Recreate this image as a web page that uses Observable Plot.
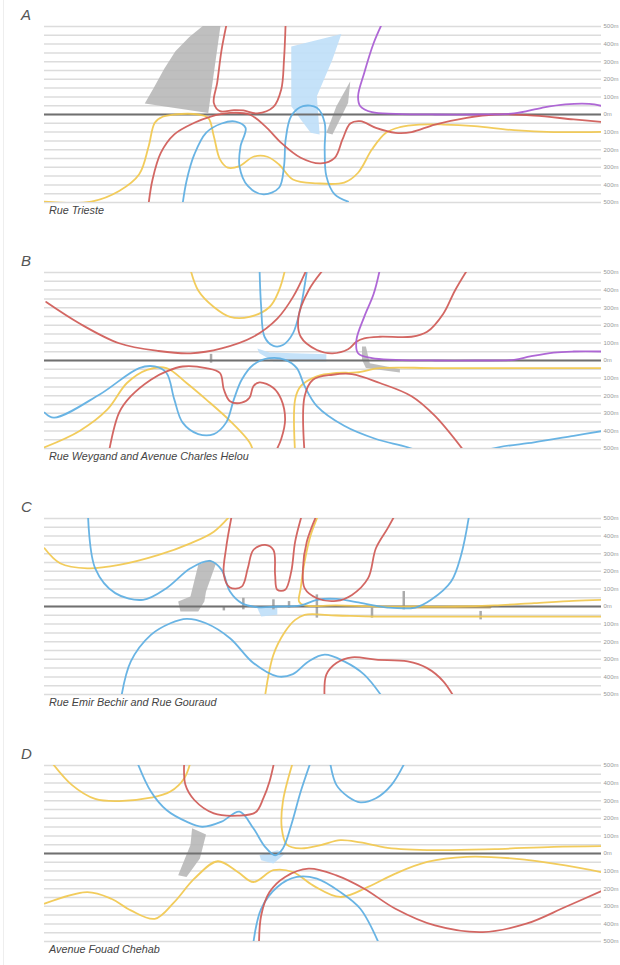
<!DOCTYPE html>
<html><head><meta charset="utf-8">
<script src="https://cdn.jsdelivr.net/npm/d3@7"></script>
<script src="https://cdn.jsdelivr.net/npm/@observablehq/plot@0.6"></script>
<style>
body{margin:0;background:#fff;font-family:"Liberation Sans",Arial,sans-serif}
#root{position:relative;width:620px;height:965px;overflow:hidden}
#root:before{content:"";position:absolute;left:3px;top:0;bottom:0;border-left:1px solid #eee}
.letter{position:absolute;left:21px;font-size:15px;font-style:italic;color:#555}
.cap{position:absolute;left:49px;font-size:10.8px;font-style:italic;color:#444;white-space:nowrap}
.pl{position:absolute;left:0}
</style></head><body><div id="root"></div>
<script>
// ---- data (x: position along street 0–100, y: metres) ----
const gridMeters = d3.range(-500, 501, 50);
const tickMeters = d3.range(-500, 501, 100);
const letters = ["A", "B", "C", "D"];
const captions = ["Rue Trieste", "Rue Weygand and Avenue Charles Helou", "Rue Emir Bechir and Rue Gouraud", "Avenue Fouad Chehab"];

// Panel A
const A_gray_1 = [[18.0,62],[19.6,150],[21.5,260],[23.5,360],[26,440],[28.5,505],[31.6,505],[29.4,9]];
const A_gray_2 = [[54.9,189],[54.5,66],[51.7,-113],[50.6,-104],[52.4,47]];
const A_lightblue = [[44.3,387],[53.3,457],[51.7,312],[48.9,104],[49.4,-113],[47.8,-104],[46.0,-28],[44.3,47]];
const A_red_1 = [[32.8,530],[31.8,369],[31.0,180],[30.4,66],[31.5,19],[34.0,25],[35.7,23],[38.2,6],[41.1,43],[42.5,142],[43.0,312],[43.3,530]];
const A_red_2 = [[18.6,-530],[19.4,-369],[20.9,-217],[23.3,-113],[26.9,-47],[29.7,-13],[33.3,9],[36.8,0],[39.6,-66],[42.5,-161],[46.0,-246],[49.6,-278],[52.1,-246],[53.5,-142],[54.9,-51],[56.7,-38],[59.5,-76],[63.0,-104],[65.9,-100],[70.1,-57],[75.8,-19],[80.8,0],[87.9,-6],[95.0,-28],[100.3,-43]];
const A_purple = [[60.8,530],[59.1,406],[57.4,236],[56.3,104],[56.7,47],[58.8,13],[63.0,4],[70.1,0],[77.2,0],[84.3,6],[89.3,38],[93.5,57],[97.8,60],[100.3,47]];
const A_yellow = [[0,-495],[8.4,-495],[13.4,-435],[17.0,-340],[18.7,-180],[19.8,-47],[21.2,-13],[23.3,0],[27.6,0],[29.4,-19],[30.4,-123],[31.5,-255],[32.9,-302],[35.0,-293],[37.5,-240],[40.0,-240],[42.1,-284],[44.6,-369],[48.9,-391],[53.8,-387],[56.3,-331],[58.8,-198],[61.3,-104],[63.8,-72],[67.3,-57],[71.6,-57],[77.2,-66],[84.3,-89],[91.4,-100],[100.3,-98]];
const A_blue = [[24.7,-530],[25.5,-378],[26.9,-227],[29.0,-104],[31.8,-51],[34.3,-40],[36.1,-76],[35.2,-180],[35.0,-293],[36.5,-406],[39.3,-454],[42.1,-416],[43.0,-293],[43.3,-142],[44.3,-9],[46.4,47],[48.9,38],[50.3,-47],[50.3,-198],[50.6,-350],[52.1,-454],[54.5,-495]];

// Panel B
const B_gray = [[57.0,79],[57.7,79],[58.4,-15],[63.8,-49],[63.8,-68],[57.7,-43],[57.0,4]];
const B_lightblue = [[38.2,68],[40.4,45],[50.6,35],[50.6,-6],[41.1,-6],[38.6,41]];
const B_grayTicks = [[29.9,35,-15]];
const B_red_1 = [[0.3,332],[6.3,210],[13.4,98],[20.5,54],[26.2,41],[31.8,69],[37.5,135],[41.8,238],[44.6,360],[46.7,492],[47.3,540]];
const B_red_2 = [[50.4,530],[47.4,398],[45.6,248],[46.0,135],[48.9,60],[51.7,41],[54.5,64],[56.0,107],[57.4,126],[60.2,135],[65.9,135],[68.7,163],[71.6,266],[73.7,398],[76.2,530]];
const B_red_3 = [[11.5,-530],[13.4,-296],[15.5,-203],[19.1,-109],[21.9,-62],[24.8,-34],[29.0,-43],[31.5,-71],[32.2,-165],[33.3,-231],[35.4,-240],[36.8,-212],[37.5,-146],[38.6,-124],[41.1,-156],[42.5,-221],[43.2,-334],[42.5,-446],[41.3,-530]];
const B_red_4 = [[46.7,-530],[46.7,-203],[48.2,-109],[51.7,-81],[55.2,-77],[60.2,-128],[65.9,-203],[70.1,-315],[75.7,-530]];
const B_purple = [[60.3,530],[59.1,379],[57.4,248],[56.0,116],[56.3,41],[58.8,13],[63.0,4],[70.1,0],[77.2,0],[84.3,4],[87.2,23],[91.4,45],[95.0,51],[100.3,51]];
const B_yellow_1 = [[26.1,530],[27.6,398],[30.4,304],[33.3,248],[36.8,248],[40.4,304],[42.1,398],[43.3,530]];
const B_yellow_2 = [[0,-493],[6.3,-400],[11.3,-278],[14.8,-128],[18.4,-53],[21.9,-43],[25.5,-128],[29.0,-221],[33.3,-343],[36.8,-465],[37.6,-530]];
const B_yellow_3 = [[45.0,-530],[45.0,-221],[46.0,-146],[48.9,-90],[52.4,-71],[56.0,-68],[60.2,-43],[70.1,-43],[84.3,-43],[100.3,-43]];
const B_blue_1 = [[0,-296],[1.7,-325],[9.9,-193],[17.0,-43],[19.8,-34],[21.9,-71],[23.3,-221],[24.8,-353],[27.6,-418],[30.4,-418],[32.6,-353],[34.0,-221],[35.4,-109],[37.5,-24],[40.4,13],[43.2,4],[45.3,-43],[46.7,-146],[48.9,-259],[53.8,-371],[59.5,-446],[65.2,-493],[69,-540]];
const B_blue_2 = [[77,-530],[81.5,-493],[87.9,-465],[95.0,-428],[100.3,-400]];
const B_blue_3 = [[38.6,530],[38.9,304],[39.5,135],[41.1,83],[42.8,88],[44.6,154],[46.0,304],[47.2,530]];

// Panel C
const C_gray = [[27.6,236],[29.7,265],[30.8,246],[29.0,85],[28.7,28],[27.6,-28],[24.4,-28],[24.0,28],[26.2,57]];
const C_lightblue = [[38.2,-9],[41.8,-6],[41.8,-47],[38.9,-57]];
const C_grayTicks = [[32.2,-5,-25],[35.7,47,-19],[41.1,38,-19],[43.9,28,-9],[48.9,66,-66],[58.8,-9,-66],[64.5,85,-19],[78.3,-28,-76]];
const C_blue_1 = [[7.8,530],[9.1,217],[12.7,76],[17.7,38],[21.9,104],[26.2,217],[29.7,259],[31.8,208],[33.3,85],[35.4,19],[38.2,-4],[41.8,0],[46.0,6],[48.9,38],[52.4,43],[56.0,25],[61.6,-6],[66.6,-6],[69.4,38],[73.0,142],[74.8,293],[76.3,530]];
const C_blue_2 = [[13.7,-530],[15.5,-312],[19.1,-161],[22.6,-95],[25.5,-70],[29.0,-95],[33.3,-180],[37.5,-321],[41.8,-397],[44.6,-384],[47.4,-312],[50.3,-274],[53.8,-312],[57.4,-387],[61.0,-530]];
const C_yellow_1 = [[0,331],[2.8,246],[7.7,217],[13.4,236],[20.5,293],[26.2,359],[30.4,425],[33.7,530]];
const C_yellow_2 = [[49.3,530],[47.8,406],[46.7,255],[46.0,104],[45.7,28],[46.7,6],[52.4,6],[59.5,0],[66.6,0],[73.7,0],[80.8,6],[87.9,19],[95.0,32],[100.3,38]];
const C_yellow_3 = [[39.5,-530],[41.1,-274],[43.2,-142],[45.0,-76],[46.7,-47],[52.4,-51],[59.5,-57],[70.1,-57],[84.3,-57],[100.3,-57]];
const C_red_1 = [[33.7,530],[32.6,331],[32.2,180],[33.3,108],[35.4,113],[36.5,217],[37.5,321],[39.6,350],[41.1,321],[41.4,180],[41.8,95],[43.2,95],[44.3,198],[45.0,369],[46.3,530]];
const C_red_2 = [[49.0,530],[47.1,369],[46.4,217],[46.7,104],[48.9,47],[52.4,32],[55.2,66],[58.1,161],[59.5,331],[61.6,444],[63.1,530]];
const C_red_3 = [[50.3,-530],[50.6,-387],[52.4,-321],[55.2,-289],[59.5,-302],[65.2,-312],[68.7,-350],[71.6,-425],[73.8,-530]];
const C_brown = [[66,-4],[80,-4]];

// Panel D
const D_gray = [[26.5,143],[29.0,108],[27.9,-29],[25.5,-133],[24.0,-124],[26.2,48]];
const D_lightblue = [[38.6,-10],[41.8,19],[43.2,0],[41.1,-57],[38.9,-38]];
const D_yellow_1 = [[1.0,530],[4.9,390],[9.1,310],[13.4,298],[19.1,317],[22.6,352],[25.1,428],[26.3,530]];
const D_yellow_2 = [[44.7,530],[42.8,295],[42.6,143],[43.5,51],[46.0,29],[49.6,48],[53.1,76],[56.7,63],[61.6,32],[70.1,19],[80.8,25],[91.4,38],[100.3,42]];
const D_yellow_3 = [[0,-285],[7.7,-219],[12.0,-257],[15.5,-323],[19.8,-371],[23.3,-276],[26.9,-143],[31.1,-44],[34.7,-105],[37.5,-162],[41.1,-95],[44.6,-105],[48.2,-181],[53.1,-247],[58.1,-190],[63.0,-114],[68.7,-48],[75.8,-19],[84.3,-29],[93.5,-67],[100.3,-108]];
const D_blue_1 = [[16.5,530],[19.1,352],[21.9,247],[25.5,181],[28.3,152],[31.8,181],[35.0,238],[37.5,143],[39.6,38],[41.4,-10],[42.8,29],[44.3,162],[46.0,352],[47.9,530]];
const D_blue_2 = [[51.2,530],[52.4,390],[54.5,323],[56.7,291],[59.5,314],[62.3,390],[64.9,530]];
const D_blue_3 = [[37.4,-530],[38.9,-314],[41.8,-190],[45.3,-133],[48.9,-143],[53.1,-219],[56.7,-314],[60.3,-530]];
const D_red_1 = [[25.1,530],[25.3,390],[26.9,304],[30.4,228],[34.7,215],[37.9,234],[39.3,314],[40.4,409],[41.3,530]];
const D_red_2 = [[38.5,-530],[38.9,-352],[40.4,-219],[43.2,-133],[47.4,-86],[52.4,-124],[57.4,-200],[63.0,-314],[70.1,-409],[78.7,-447],[86.5,-399],[93.5,-304],[100.3,-209]];

// ---- styles ----
const COL = {red:"#cf5a56", blue:"#5caee2", yellow:"#f1c84e", purple:"#a85bd3", gray:"#b4b4b4", lightblue:"#bfdff8", brown:"#9d7d3e"};

const panels = [
  {areas:[[A_gray_1,"gray"],[A_lightblue,"lightblue"],[A_gray_2,"gray"]], ticks:[],
   lines:[[A_yellow,"yellow"],[A_blue,"blue"],[A_red_2,"red"],[A_red_1,"red"],[A_purple,"purple"]]},
  {areas:[[B_lightblue,"lightblue"],[B_gray,"gray"]], ticks:B_grayTicks,
   lines:[[B_yellow_1,"yellow"],[B_yellow_2,"yellow"],[B_yellow_3,"yellow"],[B_blue_1,"blue"],[B_blue_2,"blue"],[B_blue_3,"blue"],[B_red_1,"red"],[B_red_2,"red"],[B_red_3,"red"],[B_red_4,"red"],[B_purple,"purple"]]},
  {areas:[[C_gray,"gray"],[C_lightblue,"lightblue"]], ticks:C_grayTicks,
   lines:[[C_brown,"brown"],[C_yellow_1,"yellow"],[C_yellow_2,"yellow"],[C_yellow_3,"yellow"],[C_blue_1,"blue"],[C_blue_2,"blue"],[C_red_1,"red"],[C_red_2,"red"],[C_red_3,"red"]]},
  {areas:[[D_gray,"gray"],[D_lightblue,"lightblue"]], ticks:[],
   lines:[[D_yellow_1,"yellow"],[D_yellow_2,"yellow"],[D_yellow_3,"yellow"],[D_blue_1,"blue"],[D_blue_2,"blue"],[D_blue_3,"blue"],[D_red_1,"red"],[D_red_2,"red"]]}
];
const plotTops = [26, 272, 518, 765];
const PH = 176, PAD = 4;

const root = document.getElementById("root");
panels.forEach((p, i) => {
  const top = plotTops[i];
  const marks = [
    Plot.ruleY(gridMeters, {stroke:"#dcdcdc", strokeWidth:1.5}),
    ...p.areas.map(([pts, c]) => Plot.line(pts, {x:d=>d[0], y:d=>d[1], fill:COL[c], stroke:"none", curve:"linear-closed", clip:true, fillOpacity: c==="gray" ? 0.85 : 0.9})),
    Plot.ruleX(p.ticks, {x:d=>d[0], y1:d=>d[1], y2:d=>d[2], stroke:"#aaa", strokeWidth:2.5}),
    Plot.ruleY([0], {stroke:"#707070", strokeWidth:2}),
    ...p.lines.map(([pts, c]) => Plot.line(pts, {x:d=>d[0], y:d=>d[1], stroke:COL[c], strokeWidth: c==="brown" ? 2.5 : 1.8, strokeOpacity: c==="brown" ? 0.6 : 0.92, curve:"catmull-rom", clip:true})),
    Plot.axisY({anchor:"right", ticks:tickMeters, tickSize:0, tickPadding:2, tickFormat:d=>Math.abs(d)+"m", fontSize:6, color:"#999", label:null})
  ];
  const svg = Plot.plot({
    width:620, height:PH + 2*PAD,
    marginLeft:44, marginRight:19, marginTop:PAD, marginBottom:PAD,
    x:{domain:[0,100], axis:null},
    y:{domain:[-500,500], axis:null},
    style:{background:"transparent", fontFamily:"Liberation Sans, Arial, sans-serif"},
    marks
  });
  svg.classList.add("pl");
  svg.style.top = (top - PAD) + "px";
  root.appendChild(svg);
  const L = document.createElement("div");
  L.className = "letter"; L.textContent = letters[i];
  L.style.top = (top - 20) + "px";
  root.appendChild(L);
  const C = document.createElement("div");
  C.className = "cap"; C.textContent = captions[i];
  C.style.top = (top + PH + 2) + "px";
  root.appendChild(C);
});
</script></body></html>
